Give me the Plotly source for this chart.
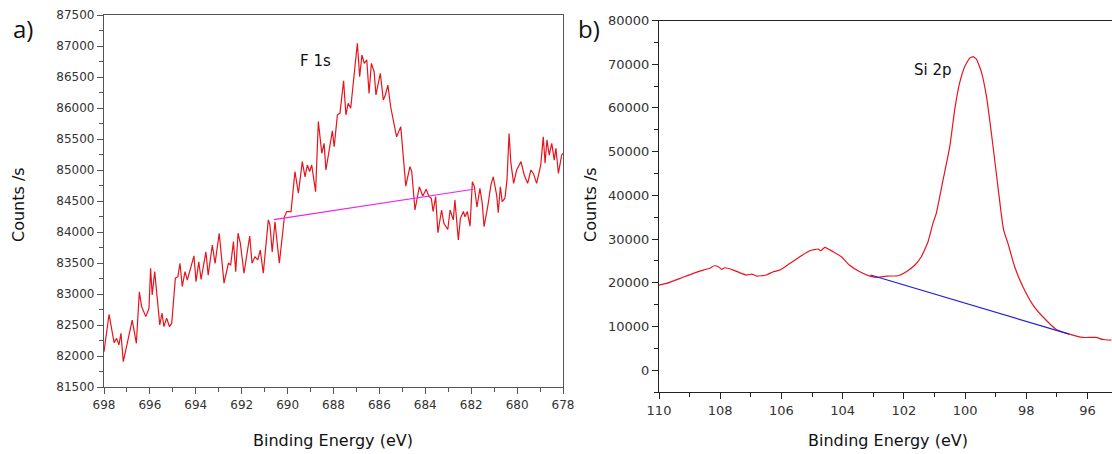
import plotly.graph_objects as go

# ---------------- data: panel a (F 1s) ----------------
f1s_be = [698.00, 697.78, 697.56, 697.45, 697.35, 697.26, 697.16, 696.77, 696.59, 696.46,
          696.36, 696.18, 696.04, 695.97, 695.90, 695.79, 695.70, 695.57, 695.47, 695.39,
          695.27, 695.15, 695.05, 694.89, 694.78, 694.69, 694.59, 694.47, 694.37, 694.08,
          693.99, 693.87, 693.77, 693.56, 693.46, 693.28, 693.16, 692.98, 692.77, 692.58,
          692.48, 692.36, 692.26, 692.16, 692.06, 691.90, 691.65, 691.55, 691.42, 691.30,
          691.19, 691.06, 690.84, 690.77, 690.67, 690.55, 690.36, 690.14, 690.04, 689.85,
          689.68, 689.53, 689.36, 689.24, 689.14, 689.04, 688.95, 688.78, 688.66, 688.51,
          688.41, 688.33, 688.05, 687.97, 687.83, 687.72, 687.56, 687.46, 687.36, 687.25,
          686.96, 686.86, 686.76, 686.66, 686.55, 686.45, 686.35, 686.23, 686.15, 685.96,
          685.83, 685.74, 685.63, 685.51, 685.25, 685.07, 684.85, 684.67, 684.59, 684.45,
          684.26, 684.11, 683.96, 683.84, 683.74, 683.66, 683.55, 683.45, 683.29, 683.19,
          683.02, 682.92, 682.78, 682.71, 682.56, 682.47, 682.34, 682.27, 682.17, 682.05,
          681.95, 681.86, 681.75, 681.62, 681.52, 681.44, 681.28, 681.14, 681.04, 680.89,
          680.82, 680.73, 680.65, 680.53, 680.44, 680.35, 680.27, 680.15, 680.02, 679.83,
          679.69, 679.54, 679.40, 679.29, 679.15, 678.97, 678.86, 678.78, 678.70, 678.60,
          678.49, 678.38, 678.31, 678.20, 678.06, 678.00]
f1s_counts = [82070, 82670, 82215, 82285, 82180, 82365, 81910, 82580, 82205, 83035,
              82795, 82635, 82770, 83415, 82985, 83360, 83010, 82500, 82690, 82475,
              82610, 82475, 82525, 83255, 83280, 83495, 83120, 83360, 83225, 83615,
              83200, 83520, 83235, 83680, 83305, 83790, 83495, 83980, 83175, 83495,
              83470, 83845, 83360, 83980, 83820, 83335, 83935, 83495, 83600, 83550,
              83710, 83335, 84195, 84115, 83680, 84165, 83495, 84245, 84330, 84330,
              84975, 84625, 85135, 84890, 85080, 84975, 85080, 84650, 85780, 85270,
              85430, 85000, 85630, 85375, 85890, 85915, 86440, 85890, 86075, 85995,
              87045, 86505, 86855, 86720, 86775, 86235, 86720, 86585, 86210, 86560,
              86130, 86210, 86370, 86020, 85535, 85700, 84740, 85055, 84975, 84355,
              84730, 84580, 84690, 84570, 84545, 84330, 84570, 83990, 84355, 84140,
              84040, 84355, 84195, 84515, 83870, 84220, 84330, 84245, 84330, 84095,
              84810, 84730, 84400, 84705, 84465, 84085, 84410, 84760, 84890, 84595,
              84310, 84730, 84490, 84545, 84840, 85590, 85110, 84785, 85000, 85135,
              84920, 84785, 85000, 84945, 84785, 85080, 85535, 85110, 85485, 85240,
              85430, 85160, 85350, 84945, 85240, 85270]
f1s_base_be = [690.6, 681.9]
f1s_base_counts = [84200, 84690]

# ---------------- data: panel b (Si 2p) ----------------
si2p_be = [110.00, 109.75, 109.31, 108.88, 108.55, 108.34, 108.20, 108.06, 107.95, 107.85,
           107.57, 107.36, 107.14, 106.97, 106.81, 106.49, 106.27, 106.05, 105.72, 105.40,
           105.07, 104.80, 104.72, 104.58, 104.31, 104.04, 103.77, 103.44, 103.11, 102.84,
           102.57, 102.19, 101.92, 101.64, 101.43, 101.21, 101.05, 100.94, 100.72, 100.50,
           100.34, 100.18, 100.01, 99.85, 99.74, 99.63, 99.47, 99.30, 99.14, 98.98,
           98.82, 98.74, 98.60, 98.38, 98.11, 97.78, 97.46, 97.02, 96.59, 96.15,
           95.72, 95.50, 95.22]
si2p_counts = [19450, 19850, 21000, 22150, 22900, 23300, 23880, 23660, 23050, 23430,
               22900, 22290, 21760, 21990, 21530, 21760, 22520, 22900, 24430, 25950,
               27320, 27710, 27320, 28100, 27090, 25950, 24000, 22500, 21530, 21220,
               21530, 21600, 22520, 24050, 25950, 29380, 33590, 35880, 43510, 51140,
               59540, 65650, 69470, 71390, 71750, 71150, 68310, 62590, 54200, 45050,
               35880, 32060, 29010, 23660, 19080, 14880, 12210, 9320, 8240, 7480,
               7480, 7020, 6870]
si2p_base_be = [103.09, 96.6]
si2p_base_counts = [21760, 8240]

# ---------------- tick settings ----------------
a_xticks = [698, 696, 694, 692, 690, 688, 686, 684, 682, 680, 678]
a_yticks = [81500, 82000, 82500, 83000, 83500, 84000, 84500, 85000, 85500, 86000, 86500, 87000, 87500]
b_xticks = [110, 108, 106, 104, 102, 100, 98, 96]
b_yticks = [0, 10000, 20000, 30000, 40000, 50000, 60000, 70000, 80000]

W, H = 1112, 454
RED = "#e8141c"
FONT = "DejaVu Sans"

fig = go.Figure()
fig.add_trace(go.Scatter(x=f1s_be, y=f1s_counts, mode="lines",
                         line=dict(color=RED, width=1.2), xaxis="x", yaxis="y"))
fig.add_trace(go.Scatter(x=f1s_base_be, y=f1s_base_counts, mode="lines",
                         line=dict(color="#ee22ee", width=1.2), xaxis="x", yaxis="y"))
fig.add_trace(go.Scatter(x=si2p_be, y=si2p_counts, mode="lines",
                         line=dict(color=RED, width=1.2, shape="spline", smoothing=0.4),
                         xaxis="x2", yaxis="y2"))
fig.add_trace(go.Scatter(x=si2p_base_be, y=si2p_base_counts, mode="lines",
                         line=dict(color="#2020dd", width=1.2), xaxis="x2", yaxis="y2"))

def px_x(p):
    return p / W

def px_y(p):
    return 1 - p / H

axis_a = dict(showgrid=False, zeroline=False, showline=True, linecolor="#555", linewidth=1.3,
              ticks="outside", tickcolor="#555", ticklen=6, tickwidth=1, automargin=False,
              tickformat="d",
              tickfont=dict(family=FONT, size=12, color="#333"), mirror=True)
axis_b = dict(showgrid=False, zeroline=False, showline=True, linecolor="#222", linewidth=1.3,
              ticks="outside", tickcolor="#222", ticklen=6, tickwidth=1, automargin=False,
              tickformat="d",
              tickfont=dict(family=FONT, size=13, color="#333"))

fig.update_layout(
    width=W, height=H, margin=dict(l=0, r=0, t=0, b=0),
    paper_bgcolor="white", plot_bgcolor="white", showlegend=False,
    xaxis=dict(axis_a, domain=[px_x(104), px_x(563)], range=[698, 678],
               tickvals=a_xticks, anchor="y",
               minor=dict(ticks="outside", ticklen=4, dtick=1, tickcolor="#555")),
    yaxis=dict(axis_a, domain=[px_y(387), px_y(15)], range=[81500, 87500],
               tickvals=a_yticks, anchor="x",
               minor=dict(ticks="outside", ticklen=4, dtick=250, tickcolor="#555")),
    xaxis2=dict(axis_b, domain=[px_x(659), 1.0], range=[110, 95.2], mirror=True,
                tickvals=b_xticks, anchor="y2",
                minor=dict(ticks="outside", ticklen=4, dtick=1, tickcolor="#222")),
    yaxis2=dict(axis_b, domain=[px_y(392), px_y(20.5)], range=[-5000, 80000],
                tickvals=b_yticks, anchor="x2",
                minor=dict(ticks="outside", ticklen=4, dtick=5000, tickcolor="#222")),
)

ann = []
def text(s, x, y, size, angle=0, color="#111", family=FONT):
    ann.append(dict(text=s, x=px_x(x), y=px_y(y), xref="paper", yref="paper",
                    showarrow=False, xanchor="center", yanchor="middle",
                    textangle=angle, font=dict(family=family, size=size, color=color)))

text("a)", 23, 29, 24, family="Open Sans")
text("b)", 589, 28, 24, family="Open Sans")
text("F 1s", 315, 61, 15)
text("Si 2p", 933, 70, 15)
text("Counts /s", 18, 205, 16, angle=-90)
text("Counts /s", 590, 205, 16, angle=-90)
text("Binding Energy (eV)", 333, 440, 16)
text("Binding Energy (eV)", 888, 440, 16)
fig.update_layout(annotations=ann)

fig.write_html("out.html", config={"displayModeBar": False},
               post_script="document.body.style.margin='0';document.body.style.overflow='hidden';")
